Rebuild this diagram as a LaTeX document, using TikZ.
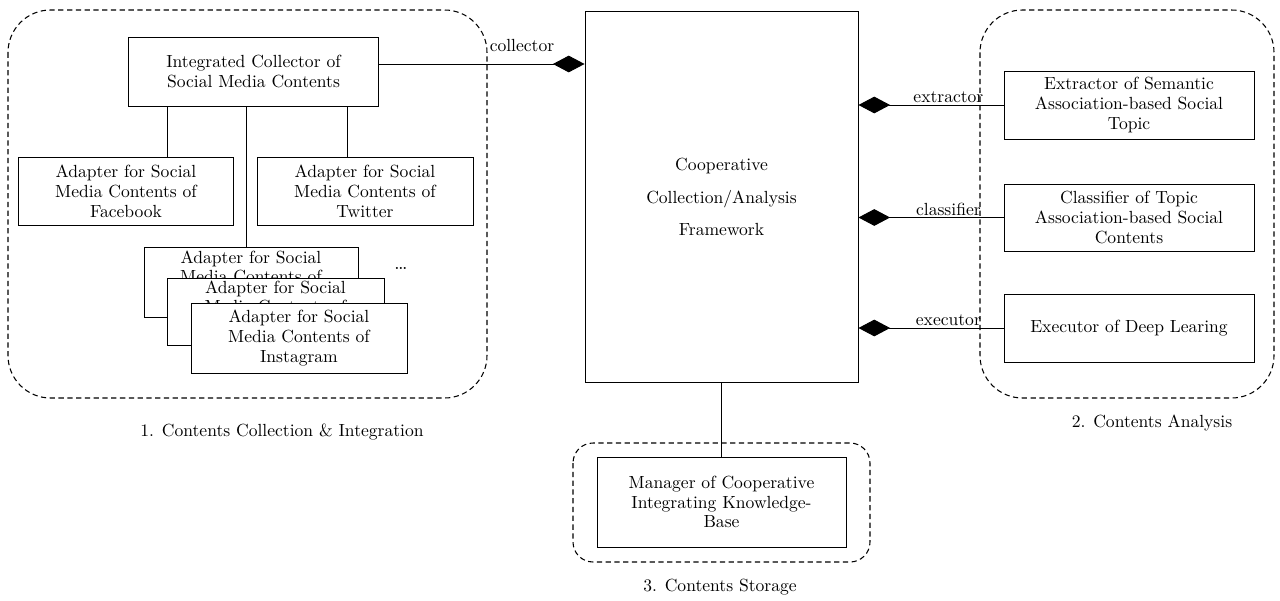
\documentclass[tikz,border=0pt]{standalone}
\usetikzlibrary{arrows.meta}
\begin{document}
\begin{tikzpicture}[x=0.02cm,y=-0.02cm,
  box/.style={draw, line width=0.55pt, fill=white, align=center, inner sep=1pt,
    font=\fontsize{10}{11.3}\selectfont},
  grp/.style={draw, line width=0.6pt, dash pattern=on 3pt off 2pt},
  conn/.style={line width=0.55pt},
  dia/.style={-{Diamond[length=18pt,width=9.5pt]}},
  lbl/.style={font=\fontsize{10}{12}\selectfont, inner sep=1pt},
  btxt/.style={align=center, inner sep=0pt, font=\fontsize{10}{10.5}\selectfont}
]
\useasboundingbox (0,0) rectangle (1280,601);

% groups
\draw[grp, rounded corners=0.85cm] (8,10) rectangle (487,398);
\draw[grp, rounded corners=0.85cm] (980,10) rectangle (1274,398);
\draw[grp, rounded corners=0.4cm] (573,443) rectangle (870,562);

\node[lbl] (g1) at (282,432) {1. Contents Collection \& Integration};
\node[lbl] (g2) at (1152,423) {2. Contents Analysis};
\node[lbl] (g3) at (720,587) {3. Contents Storage};

% collector side
\node[box, minimum width=5.02cm, minimum height=1.38cm] (coll) at (253.5,71.5)
  {Integrated Collector of\\Social Media Contents};
\node[box, minimum width=4.32cm, minimum height=1.36cm] (fb) at (126,191)
  {Adapter for Social\\Media Contents of\\Facebook};
\node[box, minimum width=4.32cm, minimum height=1.36cm] (tw) at (365,191)
  {Adapter for Social\\Media Contents of\\Twitter};

\coordinate (xf) at (167,0);
\coordinate (xt) at (347,0);
\coordinate (xa) at (246,0);
\coordinate (yc) at (0,64);

\draw[conn] (coll.south -| xf) -- (fb.north -| xf);
\draw[conn] (coll.south -| xt) -- (tw.north -| xt);

\node[box, minimum width=4.28cm, minimum height=1.40cm] (ad1) at (251,282) {};
\node[btxt, anchor=north] (ad1t) at (251,251) {Adapter for Social\\Media Contents of};
\draw[conn] (coll.south -| xa) -- (ad1.north -| xa);
\node[box, minimum width=4.34cm, minimum height=1.34cm] (ad2) at (275.5,311.5) {};
\node[btxt, anchor=north] (ad2t) at (275.5,281) {Adapter for Social\\Media Contents of};
\node[box, minimum width=4.32cm, minimum height=1.40cm] (ad3) at (299,338)
  {Adapter for Social\\Media Contents of\\Instagram};
\node[lbl, font=\large] (dots) at (401,268) {\dots};

% framework
\node[box, minimum width=5.46cm, minimum height=7.44cm] (fw) at (721.5,197)
  {Cooperative\\[7pt]Collection/Analysis\\[7pt]Framework};

\draw[conn, dia] (coll.east |- yc) -- (fw.west |- yc);
\node[lbl] (lc) at (522,46) {collector};

% analysis side
\node[box, minimum width=5.0cm, minimum height=1.36cm] (ext) at (1129,105)
  {Extractor of Semantic\\Association-based Social\\Topic};
\node[box, minimum width=5.0cm, minimum height=1.34cm] (cls) at (1129,217.5)
  {Classifier of Topic\\Association-based Social\\Contents};
\node[box, minimum width=5.0cm, minimum height=1.36cm] (exe) at (1129,328)
  {Executor of Deep Learing};

\draw[conn, dia] (ext.west) -- node[lbl, above, pos=0.38, inner sep=0pt, yshift=1pt] (le) {extractor} (ext.west -| fw.east);
\draw[conn, dia] (cls.west) -- node[lbl, above, pos=0.38, inner sep=0pt, yshift=1pt] (lk) {classifier} (cls.west -| fw.east);
\draw[conn, dia] (exe.west) -- node[lbl, above, pos=0.38, inner sep=0pt, yshift=1pt] (lx) {executor} (exe.west -| fw.east);

% storage
\node[box, minimum width=4.98cm, minimum height=1.8cm] (mgr) at (721.5,502)
  {Manager of Cooperative\\Integrating Knowledge-\\Base};
\draw[conn] (fw.south) -- (mgr.north);
\end{tikzpicture}
\end{document}
